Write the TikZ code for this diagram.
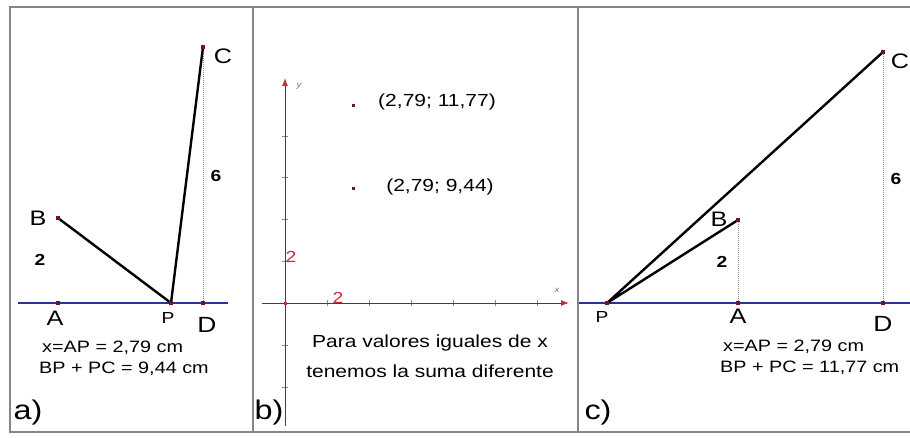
\documentclass[tikz,border=0pt]{standalone}
\usepackage{fontspec}
\setmainfont[FakeStretch=1.2]{Liberation Sans}
\usetikzlibrary{arrows.meta}
\definecolor{framegray}{RGB}{135,135,135}
\definecolor{lineblue}{RGB}{45,50,150}
\definecolor{ptred}{RGB}{115,20,35}
\definecolor{axred}{RGB}{195,45,55}

\begin{document}
\begin{tikzpicture}[x=1pt, y=-1pt,
    frame/.style={draw=framegray, line width=1.4pt},
    base/.style={lineblue, line width=2pt},
    seg/.style={black, line width=2.4pt},
    dotl/.style={black!45, densely dotted, line width=1pt},
    pt/.style={fill=ptred, inner sep=0pt, minimum size=3.5pt},
    lbl/.style={font=\fontsize{21}{21}\selectfont, inner sep=0pt},
    lblp/.style={font=\fontsize{16}{16}\selectfont, inner sep=0pt},
    num/.style={font=\fontsize{16}{16}\selectfont\bfseries, inner sep=0pt},
    note/.style={font=\fontsize{16.5}{21}\selectfont, align=left, inner sep=0pt, anchor=west},
    tag/.style={font=\fontsize{27}{27}\selectfont, inner sep=0pt},
    axis/.style={draw=black!75, line width=1pt, -{Latex[length=8pt,width=6pt,color=axred]}},
    tck/.style={draw=black!45, line width=0.8pt},
    axlbl/.style={font=\fontsize{8}{8}\selectfont\itshape, text=black!55, inner sep=0pt},
    rednum/.style={font=\fontsize{16}{16}\selectfont, text=axred, inner sep=0pt},
    coord/.style={font=\fontsize{17.5}{17.5}\selectfont, inner sep=0pt}
  ]
  \useasboundingbox (0,0) rectangle (910,437);
  % frame and dividers
  \draw[frame] (912,7) -- (10,7) -- (10,432) -- (912,432);
  \draw[frame] (253,7) -- (253,432);
  \draw[frame] (578,7) -- (578,432);

  % panel a)
  \node[pt] (aA) at (58,303) {};
  \node[pt] (aB) at (58,218) {};
  \node[pt] (aP) at (171,303) {};
  \node[pt] (aD) at (203,303) {};
  \node[pt] (aC) at (203,47) {};
  \coordinate (aL) at (18,303);
  \coordinate (aR) at (228,303);
  \draw[base] (aL) -- (aR);
  \draw[dotl] (aD.center) -- (aC.center);
  \draw[seg] (aB.center) -- (aP.center) -- (aC.center);
  \foreach \p in {aA,aB,aP,aD,aC} \node[pt] at (\p) {};
  \node[lbl] (aAl) at (55,318) {A};
  \node[lbl] (aBl) at (38,218) {B};
  \node[lblp] (aPl) at (168,318) {P};
  \node[lbl, font=\fontsize{22}{22}\selectfont] (aDl) at (207,325) {D};
  \node[lbl] (aCl) at (223,56) {C};
  \node[num] (a2) at (40,260) {2};
  \node[num] (a6) at (216,176) {6};
  \node[note] (anote) at (39,358) {\hspace*{3pt}x=AP = 2,79 cm\\BP + PC = 9,44 cm};
  \node[tag] (atag) at (28,413) {a)};

  % panel b)
  \coordinate (bO) at (285,303);
  \coordinate (bYb) at (285,426);
  \coordinate (bYt) at (285,78);
  \coordinate (bXl) at (262,303);
  \coordinate (bXr) at (569,303);
  \foreach \t in {136,177,219,261,345,387} \draw[tck] (282,\t) -- (288,\t);
  \foreach \t in {327,369,411,453,495,537} \draw[tck] (\t,300) -- (\t,306);
  \draw[axis] (bXl) -- (bXr);
  \draw[axis] (bYb) -- (bYt);
  \node[pt, fill=axred, minimum size=3pt] (bOp) at (bO) {};
  \node[axlbl] (by) at (299,86) {y};
  \node[axlbl] (bx) at (557,290) {x};
  \node[rednum] (by2) at (291,257) {2};
  \node[rednum] (bx2) at (338,298) {2};
  \node[pt, minimum size=3pt] (bP1) at (353,105) {};
  \node[pt, minimum size=3pt] (bP2) at (353,188) {};
  \node[coord] (bP1l) at (437,102) {(2,79; 11,77)};
  \node[coord] (bP2l) at (440,187) {(2,79; 9,44)};
  \node[note, font=\fontsize{17.5}{30}\selectfont, align=center, anchor=center] (bnote) at (430,356) {Para valores iguales de x\\tenemos la suma diferente};
  \node[tag] (btag) at (269,413) {b)};

  % panel c)
  \node[pt] (cP) at (607,303) {};
  \node[pt] (cA) at (738,303) {};
  \node[pt] (cD) at (883,303) {};
  \node[pt] (cB) at (738,220) {};
  \node[pt] (cC) at (883,52) {};
  \coordinate (cL) at (579,303);
  \coordinate (cR) at (910,303);
  \draw[base] (cL) -- (cR);
  \draw[dotl] (cA.center) -- (cB.center);
  \draw[dotl] (cD.center) -- (cC.center);
  \draw[seg] (cB.center) -- (cP.center) -- (cC.center);
  \foreach \p in {cP,cA,cD,cB,cC} \node[pt] at (\p) {};
  \node[lblp] (cPl) at (602,317) {P};
  \node[lbl] (cAl) at (738,316) {A};
  \node[lbl, font=\fontsize{22}{22}\selectfont] (cDl) at (883,324) {D};
  \node[lbl] (cBl) at (719,219) {B};
  \node[lbl] (cCl) at (900,61) {C};
  \node[num] (c2) at (722,262) {2};
  \node[num] (c6) at (896,179) {6};
  \node[note] (cnote) at (720,357) {\hspace*{3pt}x=AP = 2,79 cm\\BP + PC = 11,77 cm};
  \node[tag] (ctag) at (598,413) {c)};
\end{tikzpicture}
\end{document}
